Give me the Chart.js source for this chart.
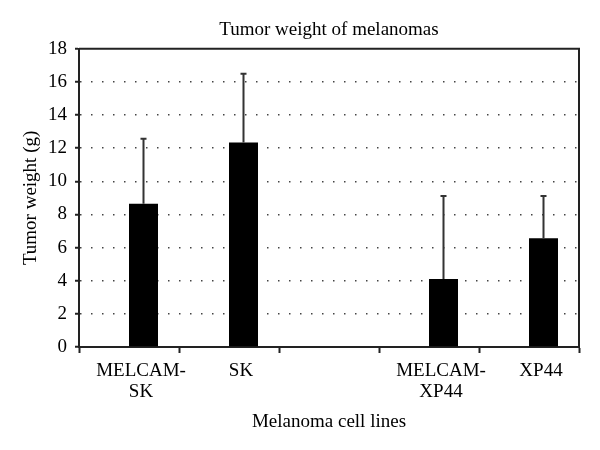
<!DOCTYPE html>
<html>
<head>
<meta charset="utf-8">
<script src="https://cdn.jsdelivr.net/npm/chart.js@4.4.1/dist/chart.umd.min.js"></script>
<style>
  html, body { margin: 0; padding: 0; background: #fff; }
  #wrap { width: 600px; height: 450px; }
</style>
</head>
<body>
<div id="wrap"><canvas id="c" width="600" height="450"></canvas></div>
<script>
const categories = [["MELCAM-", "SK"], "SK", "", ["MELCAM-", "XP44"], "XP44"];
const meanWeight = [8.65, 12.35, null, 4.1, 6.57];
const sdWeight = [3.92, 4.15, null, 5.02, 2.55];
const spacer = [null, null, null, null, null];
const yTicks = [0, 2, 4, 6, 8, 10, 12, 14, 16, 18];

const FONT = "'Liberation Serif', 'Times New Roman', serif";

const errorBars = {
  id: 'errorBars',
  afterDatasetsDraw(chart) {
    const ctx = chart.ctx;
    const meta = chart.getDatasetMeta(1);
    const y = chart.scales.y;
    ctx.save();
    ctx.strokeStyle = '#333';
    ctx.lineWidth = 2;
    meta.data.forEach((bar, i) => {
      const m = meanWeight[i], s = sdWeight[i];
      if (m == null || s == null) return;
      const x = bar.x;
      const y0 = y.getPixelForValue(m);
      const y1 = y.getPixelForValue(m + s);
      ctx.beginPath();
      ctx.moveTo(x, y0);
      ctx.lineTo(x, y1);
      ctx.moveTo(x - 3, y1);
      ctx.lineTo(x + 3, y1);
      ctx.stroke();
    });
    ctx.restore();
  }
};

const frame = {
  id: 'frame',
  afterLayout(chart) {
    // centre the title over the plot area
    if (chart.titleBlock) {
      chart.titleBlock.left = chart.chartArea.left;
      chart.titleBlock.right = chart.chartArea.right;
    }
  },
  afterDraw(chart) {
    const {ctx, chartArea: a} = chart;
    ctx.save();
    ctx.strokeStyle = '#222';
    ctx.lineWidth = 2;
    ctx.beginPath();
    ctx.moveTo(a.left, a.top);
    ctx.lineTo(a.right, a.top);
    ctx.lineTo(a.right, a.bottom);
    ctx.stroke();
    ctx.restore();
  }
};

new Chart(document.getElementById('c'), {
  type: 'bar',
  data: {
    labels: categories,
    datasets: [
      { data: spacer, backgroundColor: '#000' },
      { data: meanWeight, backgroundColor: '#000', borderWidth: 0 }
    ]
  },
  options: {
    responsive: false,
    animation: false,
    layout: { padding: { left: 0, right: 21, top: 0, bottom: 0 } },
    datasets: { bar: { categoryPercentage: 0.58, barPercentage: 1.0 } },
    plugins: {
      legend: { display: false },
      tooltip: { enabled: false },
      title: {
        display: true,
        text: 'Tumor weight of melanomas',
        color: '#000',
        font: { family: FONT, size: 19, weight: 'normal', lineHeight: 1.2 },
        padding: { top: 19, bottom: 7 }
      }
    },
    scales: {
      x: {
        offset: true,
        grid: {
          offset: true,
          drawOnChartArea: false,
          drawTicks: true,
          tickLength: 6,
          tickColor: '#222',
          tickWidth: 2
        },
        border: { display: true, color: '#222', width: 2 },
        ticks: {
          color: '#000',
          font: { family: FONT, size: 19, lineHeight: 1.1 },
          padding: 8,
          labelOffset: 12,
          maxRotation: 0,
          autoSkip: false
        },
        title: {
          display: true,
          text: 'Melanoma cell lines',
          color: '#000',
          font: { family: FONT, size: 19, lineHeight: 1.2 },
          padding: { top: 4, bottom: 17 }
        },
        afterFit(scale) { scale.height = 103; }
      },
      y: {
        min: 0,
        max: 18,
        afterBuildTicks(scale) { scale.ticks = yTicks.map(v => ({ value: v })); },
        grid: {
          color: ctx => (ctx.tick && (ctx.tick.value === 0 || ctx.tick.value === 18)) ? 'rgba(0,0,0,0)' : '#444',
          lineWidth: 1.5,
          drawTicks: true,
          tickLength: 4,
          tickColor: '#222',
          tickWidth: 2
        },
        border: { display: true, color: '#222', width: 2, dash: [1.5, 9.5] },
        ticks: {
          color: '#000',
          font: { family: FONT, size: 19 },
          padding: 8
        },
        title: {
          display: true,
          text: 'Tumor weight (g)',
          color: '#000',
          font: { family: FONT, size: 19, lineHeight: 1.2 },
          padding: { top: 20, bottom: 4 }
        },
        afterFit(scale) { scale.width = 79; }
      }
    }
  },
  plugins: [errorBars, frame]
});
</script>
</body>
</html>
